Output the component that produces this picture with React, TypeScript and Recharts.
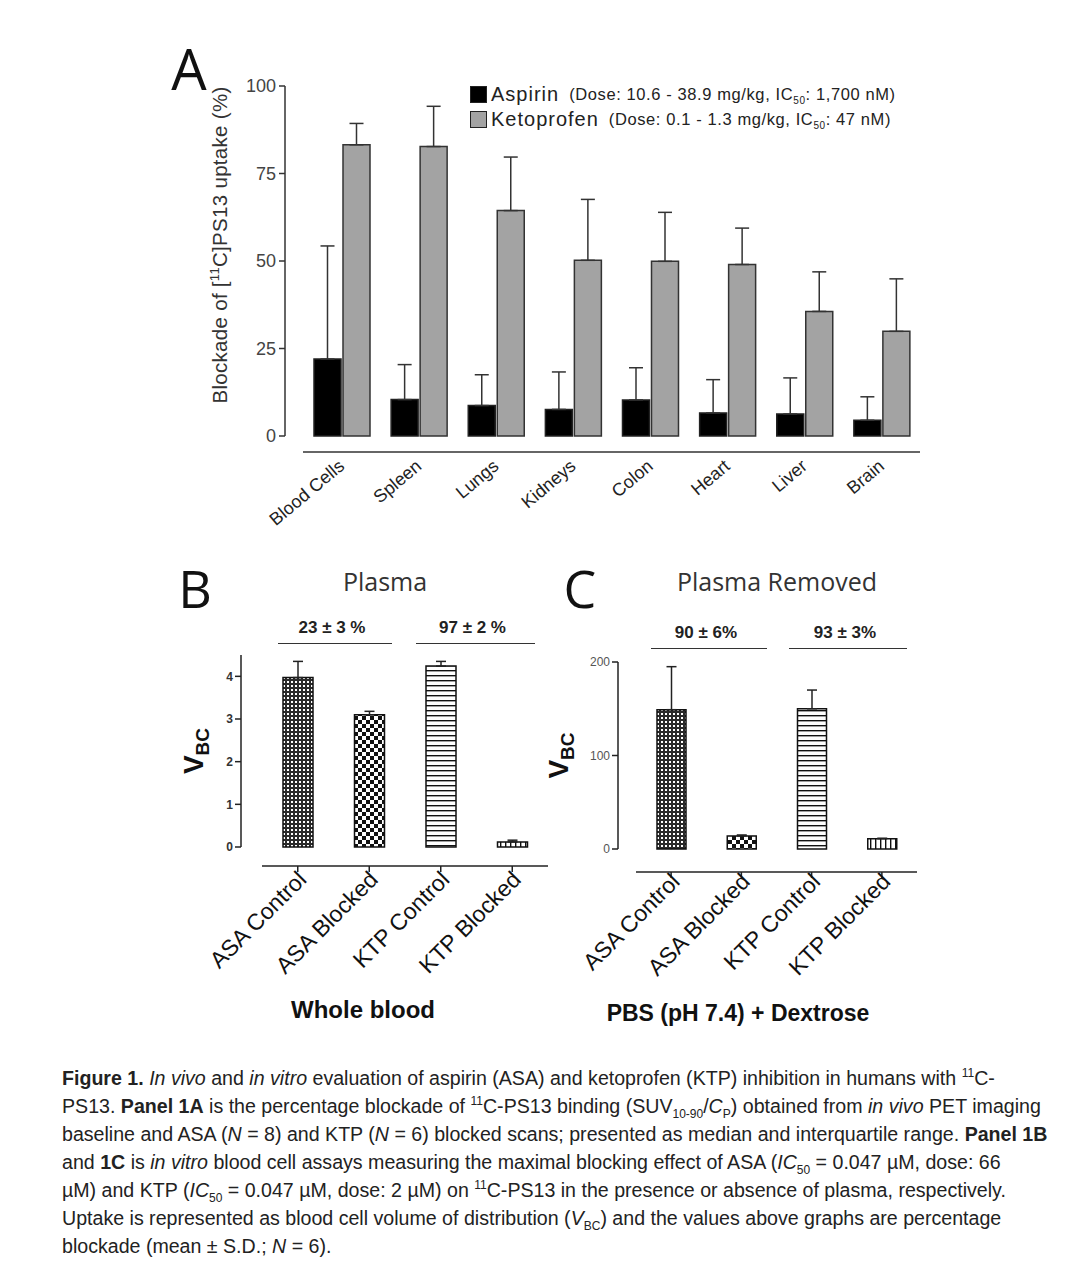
import React from "react"
import { Bar, BarChart, Cell, ErrorBar, Legend, XAxis, YAxis } from "recharts"

// Panel A: in vivo blockade (%), median with upper whisker
const organs = ["Blood Cells", "Spleen", "Lungs", "Kidneys", "Colon", "Heart", "Liver", "Brain"]
const aspirin = [22.0, 10.4, 8.7, 7.6, 10.3, 6.6, 6.3, 4.5]
const aspirinTop = [54.3, 20.4, 17.5, 18.3, 19.5, 16.1, 16.6, 11.2]
const ketoprofen = [83.2, 82.7, 64.4, 50.2, 49.9, 49.0, 35.6, 29.9]
const ketoprofenTop = [89.3, 94.2, 79.7, 67.6, 63.9, 59.4, 46.9, 44.9]
const yTicksA = [0, 25, 50, 75, 100]
const drugNames = ["Aspirin", "Ketoprofen"]
const drugDoses = ["10.6 - 38.9", "0.1 - 1.3"]
const drugIC50 = ["1,700", "47"]

// Panels B and C: in vitro V_BC
const groups = ["ASA Control", "ASA Blocked", "KTP Control", "KTP Blocked"]
const plasma = [3.97, 3.1, 4.24, 0.12]
const plasmaTop = [4.35, 3.18, 4.35, 0.16]
const yTicksB = [0, 1, 2, 3, 4]
const removed = [149, 14, 150, 11]
const removedTop = [195, 15, 170, 11.5]
const yTicksC = [0, 100, 200]
const blockB = ["23 ± 3 %", "97 ± 2 %"]
const blockC = ["90 ± 6%", "93 ± 3%"]

const ARIAL = "'Liberation Sans', Arial, sans-serif"
const CALIBRI = "'Open Sans', 'Noto Sans', sans-serif"

const dataA = organs.map((name, i) => ({
  name,
  aspirin: aspirin[i],
  aspirinErr: [0, aspirinTop[i] - aspirin[i]],
  ketoprofen: ketoprofen[i],
  ketoprofenErr: [0, ketoprofenTop[i] - ketoprofen[i]],
}))
const dataB = groups.map((name, i) => ({ name, value: plasma[i], err: [0, plasmaTop[i] - plasma[i]] }))
const dataC = groups.map((name, i) => ({ name, value: removed[i], err: [0, removedTop[i] - removed[i]] }))

const patternKeys = ["dots", "check", "hline", "vline"]

const Patterns = ({ s }: { s: string }) => (
  <defs>
    <pattern id={`dots${s}`} width={4} height={4} patternUnits="userSpaceOnUse">
      <rect width={4} height={4} fill="#2a2a2a" />
      <rect x={1} y={1} width={2} height={2} fill="#fff" />
    </pattern>
    <pattern id={`check${s}`} width={8} height={8} patternUnits="userSpaceOnUse">
      <rect width={8} height={8} fill="#fff" />
      <rect width={4} height={4} fill="#111" />
      <rect x={4} y={4} width={4} height={4} fill="#111" />
    </pattern>
    <pattern id={`hline${s}`} width={6} height={5} patternUnits="userSpaceOnUse">
      <rect width={6} height={5} fill="#fff" />
      <rect width={6} height={1.4} fill="#111" />
    </pattern>
    <pattern id={`vline${s}`} width={5} height={6} patternUnits="userSpaceOnUse">
      <rect width={5} height={6} fill="#fff" />
      <rect width={1.4} height={6} fill="#111" />
    </pattern>
  </defs>
)

const OrganTick = (p: any) => (
  <text
    transform={`translate(${p.x + 4},${p.y + 24}) rotate(-40)`}
    textAnchor="end"
    fontFamily={ARIAL}
    fontSize={18}
    fill="#222"
  >
    {p.payload.value}
  </text>
)

const makeYTick = (shift: number, size: number, weight: string, color: string) => (p: any) => (
  <text x={p.x - shift} y={p.y} dy={size * 0.36} textAnchor="end" fontFamily={ARIAL} fontSize={size} fontWeight={weight} fill={color}>
    {p.payload.value}
  </text>
)

const GroupTick = (p: any) => (
  <text
    transform={`translate(${p.x + 10},${p.y + 26}) rotate(-45)`}
    textAnchor="end"
    fontFamily={ARIAL}
    fontSize={23}
    fill="#111"
  >
    {p.payload.value}
  </text>
)

const YLabelA = (props: any) => {
  const vb = props.viewBox
  const cx = vb.x + vb.width - 76
  const cy = vb.y + vb.height / 2 - 16
  return (
    <text
      transform={`translate(${cx},${cy}) rotate(-90)`}
      textAnchor="middle"
      fontFamily={ARIAL}
      fontSize={20.5}
      letterSpacing={0.3}
      fill="#333"
    >
      Blockade of [<tspan fontSize={13} dy={-8}>11</tspan>
      <tspan dy={8}>C]PS13 uptake (%)</tspan>
    </text>
  )
}

const vbcLabel = (offset: number) => (props: any) => {
  const vb = props.viewBox
  const cx = vb.x + vb.width - offset
  const cy = vb.y + vb.height / 2
  return (
    <text transform={`translate(${cx},${cy}) rotate(-90)`} textAnchor="middle" fontFamily={ARIAL} fontWeight="bold" fill="#111">
      <tspan fontSize={28}>V</tspan>
      <tspan fontSize={19} dy={6}>BC</tspan>
    </text>
  )
}

const LegendA = (props: any) => {
  const items = props.payload || []
  return (
    <div style={{ fontFamily: ARIAL, color: "#222" }}>
      {drugNames.map((name, i) => {
        const entry = items.find((it: any) => it.dataKey === (i === 0 ? "aspirin" : "ketoprofen"))
        return (
          <div key={name} style={{ display: "flex", alignItems: "center", height: 25 }}>
            <span
              style={{
                width: 15,
                height: 15,
                background: entry ? entry.color : "#000",
                border: "1.5px solid #222",
                display: "inline-block",
                marginRight: 4,
              }}
            />
            <span style={{ fontSize: 20, letterSpacing: 1, marginRight: 10 }}>{name}</span>
            <span style={{ fontSize: 16.5, letterSpacing: 0.6 }}>
              (Dose: {drugDoses[i]} mg/kg, IC<sub style={{ fontSize: 10, lineHeight: 0 }}>50</sub>: {drugIC50[i]} nM)
            </span>
          </div>
        )
      })}
    </div>
  )
}

const abs = (x: number, y: number, style: React.CSSProperties = {}): React.CSSProperties => ({
  position: "absolute",
  left: x,
  top: y,
  transform: "translate(-50%, -50%)",
  whiteSpace: "nowrap",
  ...style,
})

const Bracket = ({ x1, x2, y, label }: { x1: number; x2: number; y: number; label: string }) => (
  <>
    <div style={abs((x1 + x2) / 2 - 3, y - 15, { fontFamily: ARIAL, fontWeight: "bold", fontSize: 17, color: "#222" })}>{label}</div>
    <div style={{ position: "absolute", left: x1, top: y, width: x2 - x1, height: 0, borderTop: "1.5px solid #333" }} />
  </>
)

const sup: React.CSSProperties = { fontSize: 12, verticalAlign: "super", lineHeight: 0 }
const sub: React.CSSProperties = { fontSize: 12, verticalAlign: "sub", lineHeight: 0 }

const captionLines = [
  <>
    <b>Figure 1.</b> <i>In vivo</i> and <i>in vitro</i> evaluation of aspirin (ASA) and ketoprofen (KTP) inhibition in humans with{" "}
    <span style={sup}>11</span>C-
  </>,
  <>
    PS13. <b>Panel 1A</b> is the percentage blockade of <span style={sup}>11</span>C-PS13 binding (SUV<span style={sub}>10-90</span>/
    <i>C</i>
    <span style={sub}>P</span>) obtained from <i>in vivo</i> PET imaging
  </>,
  <>
    baseline and ASA (<i>N</i> = 8) and KTP (<i>N</i> = 6) blocked scans; presented as median and interquartile range. <b>Panel 1B</b>
  </>,
  <>
    and <b>1C</b> is <i>in vitro</i> blood cell assays measuring the maximal blocking effect of ASA (<i>IC</i>
    <span style={sub}>50</span> = 0.047 µM, dose: 66
  </>,
  <>
    µM) and KTP (<i>IC</i>
    <span style={sub}>50</span> = 0.047 µM, dose: 2 µM) on <span style={sup}>11</span>C-PS13 in the presence or absence of plasma, respectively.
  </>,
  <>
    Uptake is represented as blood cell volume of distribution (<i>V</i>
    <span style={sub}>BC</span>) and the values above graphs are percentage
  </>,
  <>blockade (mean ± S.D.; <i>N</i> = 6).</>,
]

export default function App() {
  return (
    <div style={{ position: "relative", width: 1077, height: 1280, background: "#fff", overflow: "hidden" }}>
      <style>{"body{margin:0}"}</style>

      {/* Panel A */}
      <div style={abs(189, 68, { fontFamily: CALIBRI, fontSize: 56, color: "#111" })}>A</div>
      <div style={{ position: "absolute", left: 0, top: 0 }}>
        <BarChart
          width={1000}
          height={560}
          data={dataA}
          margin={{ top: 86, right: 80, bottom: 24, left: 0 }}
          barSize={27}
          barGap={2}
        >
          <XAxis
            dataKey="name"
            height={100}
            interval={0}
            axisLine={{ stroke: "#333", strokeWidth: 1.5, transform: "translate(0 16)" }}
            tickLine={false}
            tick={OrganTick}
          />
          <YAxis
            width={303}
            domain={[0, 100]}
            ticks={yTicksA}
            axisLine={{ stroke: "#333", strokeWidth: 1.5, transform: "translate(-18 0)" }}
            tickLine={{ stroke: "#333", strokeWidth: 1.5, transform: "translate(-18 0)" }}
            tick={makeYTick(19, 18, "normal", "#444")}
            label={{ content: YLabelA }}
          />
          <Legend
            layout="horizontal"
            verticalAlign="middle"
            align="center"
            content={LegendA}
            wrapperStyle={{ top: 82, left: 470, width: 480, height: 50 }}
          />
          <Bar dataKey="aspirin" name="Aspirin" fill="#000" stroke="#222" strokeWidth={1.5} isAnimationActive={false}>
            <ErrorBar dataKey="aspirinErr" width={7} stroke="#333" strokeWidth={1.5} isAnimationActive={false} />
          </Bar>
          <Bar dataKey="ketoprofen" name="Ketoprofen" fill="#a3a3a3" stroke="#333" strokeWidth={1.5} isAnimationActive={false}>
            <ErrorBar dataKey="ketoprofenErr" width={7} stroke="#333" strokeWidth={1.5} isAnimationActive={false} />
          </Bar>
        </BarChart>
      </div>

      {/* Panel B */}
      <div style={abs(195, 587, { fontFamily: CALIBRI, fontSize: 52, color: "#111" })}>B</div>
      <div style={abs(385, 581, { fontFamily: CALIBRI, fontSize: 25, color: "#333" })}>Plasma</div>
      <Bracket x1={278} x2={392} y={643} label={blockB[0]} />
      <Bracket x1={416} x2={535} y={643} label={blockB[1]} />
      <div style={{ position: "absolute", left: 150, top: 640 }}>
        <BarChart width={420} height={360} data={dataB} margin={{ top: 15, right: 22, bottom: 53, left: 52 }} barSize={30}>
          <Patterns s="B" />
          <XAxis
            dataKey="name"
            height={100}
            interval={0}
            axisLine={{ stroke: "#222", strokeWidth: 1.5, transform: "translate(0 19)" }}
            tickLine={{ stroke: "#222", strokeWidth: 1.5, transform: "translate(0 19)" }}
            tick={GroupTick}
          />
          <YAxis
            width={60}
            domain={[0, 4.5]}
            ticks={yTicksB}
            axisLine={{ stroke: "#222", strokeWidth: 1.5, transform: "translate(-21 0)" }}
            tickLine={{ stroke: "#222", strokeWidth: 1.5, transform: "translate(-21 0)" }}
            tick={makeYTick(21, 12, "bold", "#333")}
            label={{ content: vbcLabel(59) }}
          />
          <Bar dataKey="value" stroke="#111" strokeWidth={1.5} isAnimationActive={false}>
            {dataB.map((d, i) => (
              <Cell key={d.name} fill={`url(#${patternKeys[i]}B)`} />
            ))}
            <ErrorBar dataKey="err" width={5} stroke="#222" strokeWidth={1.5} isAnimationActive={false} />
          </Bar>
        </BarChart>
      </div>
      <div style={abs(363, 1010, { fontFamily: ARIAL, fontWeight: "bold", fontSize: 24, color: "#111" })}>Whole blood</div>

      {/* Panel C */}
      <div style={abs(580, 587, { fontFamily: CALIBRI, fontSize: 52, color: "#111" })}>C</div>
      <div style={abs(777, 581, { fontFamily: CALIBRI, fontSize: 25, color: "#333" })}>Plasma Removed</div>
      <Bracket x1={651} x2={767} y={648} label={blockC[0]} />
      <Bracket x1={789} x2={907} y={648} label={blockC[1]} />
      <div style={{ position: "absolute", left: 520, top: 640 }}>
        <BarChart width={420} height={360} data={dataC} margin={{ top: 22, right: 23, bottom: 51, left: 56 }} barSize={29}>
          <Patterns s="C" />
          <XAxis
            dataKey="name"
            height={100}
            interval={0}
            axisLine={{ stroke: "#222", strokeWidth: 1.5, transform: "translate(0 23)" }}
            tickLine={{ stroke: "#222", strokeWidth: 1.5, transform: "translate(0 23)" }}
            tick={GroupTick}
          />
          <YAxis
            width={60}
            domain={[0, 200]}
            ticks={yTicksC}
            axisLine={{ stroke: "#222", strokeWidth: 1.5, transform: "translate(-18 0)" }}
            tickLine={{ stroke: "#222", strokeWidth: 1.5, transform: "translate(-18 0)" }}
            tick={makeYTick(18, 12, "normal", "#555")}
            label={{ content: vbcLabel(68) }}
          />
          <Bar dataKey="value" stroke="#111" strokeWidth={1.5} isAnimationActive={false}>
            {dataC.map((d, i) => (
              <Cell key={d.name} fill={`url(#${patternKeys[i]}C)`} />
            ))}
            <ErrorBar dataKey="err" width={5} stroke="#222" strokeWidth={1.5} isAnimationActive={false} />
          </Bar>
        </BarChart>
      </div>
      <div style={abs(738, 1013, { fontFamily: ARIAL, fontWeight: "bold", fontSize: 23, color: "#111" })}>PBS (pH 7.4) + Dextrose</div>

      {/* Caption */}
      {captionLines.map((line, i) => (
        <div
          key={i}
          style={{
            position: "absolute",
            left: 62,
            top: 1064 + i * 28,
            fontFamily: ARIAL,
            fontSize: 19.6,
            lineHeight: "28px",
            color: "#222",
            whiteSpace: "nowrap",
          }}
        >
          {line}
        </div>
      ))}
    </div>
  )
}
